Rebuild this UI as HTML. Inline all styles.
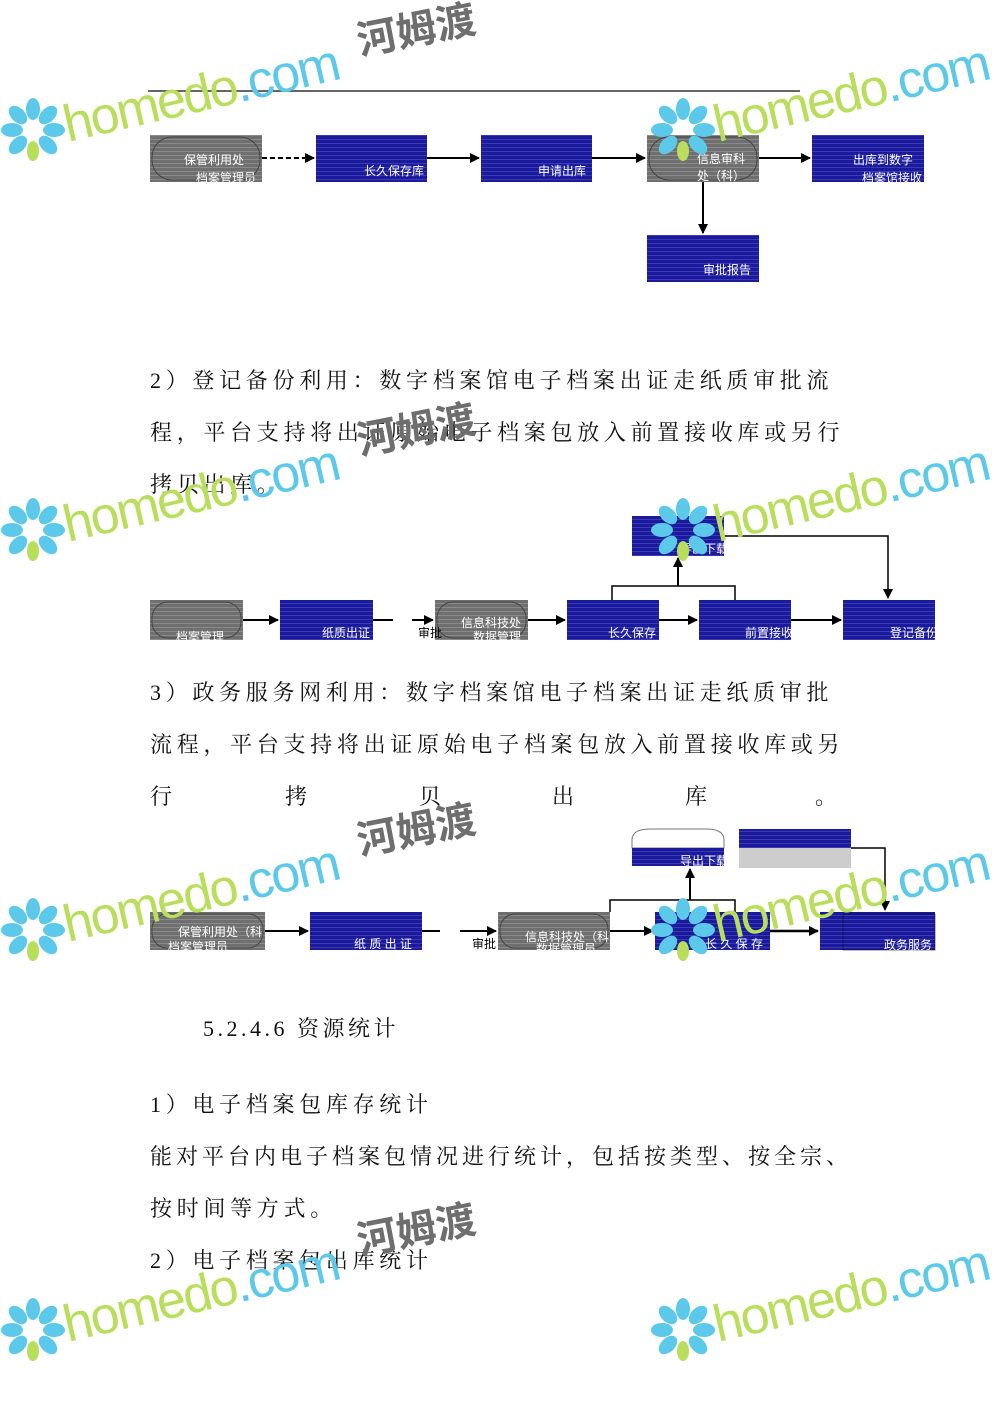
<!DOCTYPE html>
<html><head><meta charset="utf-8"><style>
body{margin:0;background:#fff;}
svg{display:block}
.t{font-family:"Liberation Serif","Noto Serif CJK SC",serif;font-size:22px;fill:#111;letter-spacing:4.7px}
.b{font-family:"Liberation Sans","Noto Sans CJK SC",sans-serif;font-size:12px;fill:#fff}
.w1{font-family:"Liberation Sans",sans-serif;font-size:52px;fill:#b8de5c}
.w2{font-family:"Liberation Sans",sans-serif;font-size:52px;fill:#5cc9ea}
.w3{font-family:"Liberation Sans","Noto Sans CJK SC",sans-serif;font-size:40px;font-weight:bold;fill:#6e6e6e}
</style></head><body>
<svg width="992" height="1403" viewBox="0 0 992 1403" xmlns="http://www.w3.org/2000/svg">
<defs>
<pattern id="bl" width="4" height="4" patternUnits="userSpaceOnUse"><rect width="4" height="4" fill="#1a1a9a"/><rect y="3" width="4" height="1" fill="#3a3ab8"/></pattern>
<pattern id="gr" width="4" height="4" patternUnits="userSpaceOnUse"><rect width="4" height="4" fill="#6f6f6f"/><rect y="3" width="4" height="1" fill="#8a8a8a"/></pattern>
<marker id="a" markerWidth="10" markerHeight="10" refX="9" refY="5" orient="auto" markerUnits="userSpaceOnUse"><path d="M0,0 L10,5 L0,10 z" fill="#000"/></marker>
<g id="wm">
<g fill="#5cc9ea">
<ellipse cx="33" cy="12" rx="7" ry="11"/><ellipse cx="48" cy="18" rx="7" ry="11" transform="rotate(45 48 18)"/>
<ellipse cx="54" cy="33" rx="11" ry="7"/><ellipse cx="48" cy="48" rx="7" ry="11" transform="rotate(-45 48 48)"/>
<ellipse cx="18" cy="18" rx="7" ry="11" transform="rotate(-45 18 18)"/><ellipse cx="12" cy="33" rx="11" ry="7"/>
<ellipse cx="18" cy="48" rx="7" ry="11" transform="rotate(45 18 48)"/>
</g>
<ellipse cx="33" cy="54" rx="6" ry="10" fill="#b8de5c"/>
<g transform="rotate(-13 68 45)"><text x="68" y="45" class="w1" style="letter-spacing:-2px">homedo<tspan class="w2">.com</tspan></text></g>
</g>
<g id="wmc"><g transform="rotate(-11 360 50)"><text x="360" y="50" class="w3">河姆渡</text></g></g>
</defs>

<!-- Diagram 1 -->
<line x1="148" y1="91" x2="800" y2="91" stroke="#333" stroke-width="1.5"/>
<rect x="150" y="135" width="112" height="47" fill="url(#gr)"/><rect x="152" y="137" width="108" height="43" rx="20" fill="none" stroke="#444"/>
<text x="184" y="164" class="b">保管利用处</text><text x="196" y="182" class="b">档案管理员</text>
<rect x="316" y="135" width="111" height="47" fill="url(#bl)"/><text x="364" y="175" class="b">长久保存库</text>
<rect x="481" y="135" width="111" height="47" fill="url(#bl)"/><text x="538" y="175" class="b">申请出库</text>
<rect x="647" y="135" width="112" height="47" fill="url(#gr)"/><rect x="649" y="137" width="108" height="43" rx="20" fill="none" stroke="#444"/>
<text x="697" y="163" class="b">信息审科</text><text x="697" y="180" class="b">处（科）</text>
<rect x="812" y="135" width="112" height="47" fill="url(#bl)"/><text x="853" y="164" class="b">出库到数字</text><text x="862" y="182" class="b">档案馆接收</text>
<rect x="647" y="235" width="112" height="47" fill="url(#bl)"/><text x="703" y="274" class="b">审批报告</text>
<line x1="262" y1="158" x2="314" y2="158" stroke="#000" stroke-width="2" stroke-dasharray="5,3" marker-end="url(#a)"/>
<line x1="427" y1="158" x2="479" y2="158" stroke="#000" stroke-width="2" marker-end="url(#a)"/>
<line x1="592" y1="158" x2="645" y2="158" stroke="#000" stroke-width="2" marker-end="url(#a)"/>
<line x1="759" y1="158" x2="810" y2="158" stroke="#000" stroke-width="2" marker-end="url(#a)"/>
<line x1="703" y1="182" x2="703" y2="233" stroke="#000" stroke-width="2" marker-end="url(#a)"/>

<!-- Para 2 -->
<text x="150" y="388" class="t">2）登记备份利用：数字档案馆电子档案出证走纸质审批流</text>
<text x="150" y="440" class="t">程，平台支持将出证原始电子档案包放入前置接收库或另行</text>
<text x="150" y="492" class="t">拷贝出库。</text>

<!-- Diagram 2 -->
<rect x="150" y="600" width="93" height="40" fill="url(#gr)"/><rect x="152" y="602" width="89" height="36" rx="16" fill="none" stroke="#444"/>
<text x="176" y="641" class="b">档案管理</text>
<rect x="280" y="600" width="93" height="40" fill="url(#bl)"/><text x="322" y="637" class="b">纸质出证</text>
<rect x="435" y="600" width="93" height="40" fill="url(#gr)"/><rect x="437" y="602" width="89" height="36" rx="16" fill="none" stroke="#444"/>
<text x="461" y="627" class="b">信息科技处</text><text x="473" y="641" class="b">数据管理</text>
<text x="418" y="637" class="b" style="fill:#000">审批</text>
<rect x="567" y="600" width="92" height="40" fill="url(#bl)"/><text x="608" y="637" class="b">长久保存</text>
<rect x="699" y="600" width="92" height="40" fill="url(#bl)"/><text x="745" y="637" class="b">前置接收</text>
<rect x="843" y="600" width="92" height="40" fill="url(#bl)"/><text x="890" y="637" class="b">登记备份</text>
<rect x="632" y="516" width="92" height="40" fill="url(#bl)"/><text x="680" y="553" class="b">导出下载</text>
<line x1="243" y1="620" x2="278" y2="620" stroke="#000" stroke-width="2" marker-end="url(#a)"/>
<line x1="373" y1="620" x2="393" y2="620" stroke="#000" stroke-width="2"/>
<line x1="412" y1="620" x2="433" y2="620" stroke="#000" stroke-width="2" marker-end="url(#a)"/>
<line x1="528" y1="620" x2="565" y2="620" stroke="#000" stroke-width="2" marker-end="url(#a)"/>
<line x1="659" y1="620" x2="697" y2="620" stroke="#000" stroke-width="2" marker-end="url(#a)"/>
<line x1="791" y1="620" x2="841" y2="620" stroke="#000" stroke-width="2" marker-end="url(#a)"/>
<polyline points="612,600 612,586 735,586 735,600" fill="none" stroke="#000" stroke-width="1.5"/>
<line x1="678" y1="586" x2="678" y2="558" stroke="#000" stroke-width="2" marker-end="url(#a)"/>
<polyline points="724,536 888,536 888,598" fill="none" stroke="#000" stroke-width="1.5" marker-end="url(#a)"/>

<!-- Para 3 -->
<text x="150" y="700" class="t">3）政务服务网利用：数字档案馆电子档案出证走纸质审批</text>
<text x="150" y="752" class="t">流程，平台支持将出证原始电子档案包放入前置接收库或另</text>
<text x="150" y="804" class="t">行</text><text x="285" y="804" class="t">拷</text><text x="419" y="804" class="t">贝</text><text x="552" y="804" class="t">出</text><text x="685" y="804" class="t">库</text><text x="815" y="804" class="t">。</text>

<!-- Diagram 3 -->
<rect x="150" y="912" width="115" height="38" fill="url(#gr)"/><rect x="152" y="914" width="111" height="34" rx="15" fill="none" stroke="#444"/>
<text x="178" y="936" class="b">保管利用处（科</text><text x="168" y="951" class="b">档案管理员</text>
<rect x="310" y="912" width="112" height="38" fill="url(#bl)"/><text x="354" y="948" class="b">纸 质 出 证</text>
<text x="472" y="948" class="b" style="fill:#000">审批</text>
<rect x="498" y="912" width="112" height="38" fill="url(#gr)"/><rect x="500" y="914" width="108" height="34" rx="15" fill="none" stroke="#444"/>
<text x="525" y="941" class="b">信息科技处（科</text><text x="536" y="953" class="b">数据管理员</text>
<rect x="655" y="912" width="115" height="38" fill="url(#bl)"/><text x="705" y="948" class="b">长 久 保 存</text>
<rect x="820" y="912" width="115" height="38" fill="url(#bl)"/><rect x="843" y="914" width="92" height="36" fill="url(#bl)" stroke="#000" stroke-width="0.5"/><text x="884" y="949" class="b">政务服务</text>
<path d="M632,848 L632,840 Q632,829 650,829 L706,829 Q724,829 724,840 L724,848 Z" fill="#fff" stroke="#777"/>
<rect x="632" y="848" width="92" height="18" fill="url(#bl)"/><text x="680" y="865" class="b">导出下载</text>
<rect x="739" y="829" width="112" height="19" fill="url(#bl)"/><rect x="739" y="848" width="112" height="20" fill="#cdcdcd"/>
<line x1="265" y1="931" x2="308" y2="931" stroke="#000" stroke-width="2" marker-end="url(#a)"/>
<line x1="422" y1="931" x2="440" y2="931" stroke="#000" stroke-width="2"/>
<line x1="460" y1="931" x2="496" y2="931" stroke="#000" stroke-width="2" marker-end="url(#a)"/>
<line x1="610" y1="931" x2="653" y2="931" stroke="#000" stroke-width="2" marker-end="url(#a)"/>
<line x1="770" y1="931" x2="818" y2="931" stroke="#000" stroke-width="2.5" marker-end="url(#a)"/>
<polyline points="610,912 610,900 735,900 735,912" fill="none" stroke="#000" stroke-width="1.5"/>
<line x1="690" y1="900" x2="690" y2="869" stroke="#000" stroke-width="2" marker-end="url(#a)"/>
<polyline points="851,848 885,848 885,910" fill="none" stroke="#000" stroke-width="1.5" marker-end="url(#a)"/>

<!-- Section -->
<text x="203" y="1036" class="t" style="letter-spacing:3.5px">5.2.4.6 资源统计</text>
<text x="150" y="1112" class="t">1）电子档案包库存统计</text>
<text x="150" y="1164" class="t" style="letter-spacing:4px">能对平台内电子档案包情况进行统计，包括按类型、按全宗、</text>
<text x="150" y="1216" class="t">按时间等方式。</text>
<text x="150" y="1268" class="t">2）电子档案包出库统计</text>

<!-- Watermarks -->
<use href="#wmc" x="0" y="5"/>
<use href="#wm" x="0" y="97"/>
<use href="#wm" x="650" y="97"/>
<use href="#wmc" x="0" y="405"/>
<use href="#wm" x="0" y="497"/>
<use href="#wm" x="650" y="497"/>
<use href="#wmc" x="0" y="805"/>
<use href="#wm" x="0" y="897"/>
<use href="#wm" x="650" y="897"/>
<use href="#wmc" x="0" y="1205"/>
<use href="#wm" x="0" y="1297"/>
<use href="#wm" x="650" y="1297"/>
</svg>
</body></html>
